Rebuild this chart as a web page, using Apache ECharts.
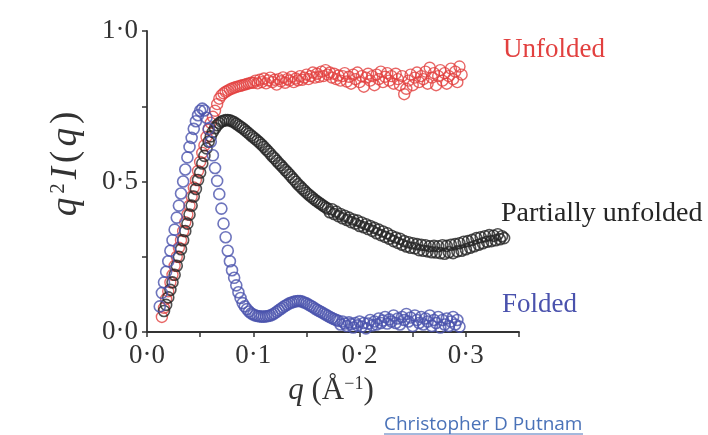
<!DOCTYPE html>
<html><head><meta charset="utf-8">
<script src="https://cdn.jsdelivr.net/npm/echarts/dist/echarts.min.js"></script>
<style>html,body{margin:0;padding:0;background:#fff;}#c{width:708px;height:435px;}</style>
</head><body><div id="c"></div>
<script>
// shared q grid (Å^-1)
const q = [
0.010,0.012,0.014,0.016,0.018,0.020,0.022,0.024,0.026,0.028,
0.030,0.032,0.034,0.036,0.038,0.040,0.042,0.044,0.046,0.048,
0.050,0.052,0.054,0.056,0.058,0.060,0.062,0.064,0.066,0.068,
0.070,0.072,0.074,0.076,0.078,0.080,0.082,0.084,0.086,0.088,
0.090,0.092,0.094,0.096,0.098,0.100,0.102,0.104,0.106,0.108,
0.110,0.112,0.114,0.116,0.118,0.120,0.122,0.124,0.126,0.128,
0.130,0.132,0.134,0.136,0.138,0.140,0.142,0.144,0.146,0.148,
0.150,0.152,0.154,0.156,0.158,0.160,0.162,0.164,0.166,0.168,
0.170,0.172,0.174,0.176,0.178,0.180,0.182,0.184,0.186,0.188,
0.190,0.192,0.194,0.196,0.198,0.200,0.202,0.204,0.206,0.208,
0.210,0.212,0.214,0.216,0.218,0.220,0.222,0.224,0.226,0.228,
0.230,0.232,0.234,0.236,0.238,0.240,0.242,0.244,0.246,0.248,
0.250,0.252,0.254,0.256,0.258,0.260,0.262,0.264,0.266,0.268,
0.270,0.272,0.274,0.276,0.278,0.280,0.282,0.284,0.286,0.288,
0.290,0.292,0.294,0.296,0.298,0.300,0.302,0.304,0.306,0.308,
0.310,0.312,0.314,0.316,0.318,0.320,0.322,0.324,0.326,0.328,
0.330,0.332,0.334,0.336];

const unfolded = [
null,null,0.05,0.08,0.11,0.135,0.165,0.19,0.22,0.25,
0.28,0.305,0.335,0.365,0.39,0.42,0.45,0.48,0.505,0.535,
0.565,0.595,0.62,0.648,0.672,0.695,0.715,0.735,0.757,0.775,
0.786,0.793,0.798,0.802,0.806,0.809,0.812,0.814,0.816,0.818,
0.82,0.822,0.824,0.826,0.828,0.828,0.835,0.826,0.838,0.83,
0.842,0.826,0.836,0.845,0.83,0.838,0.822,0.84,0.833,0.846,
0.828,0.84,0.835,0.848,0.83,0.842,0.836,0.85,0.838,0.845,
0.855,0.84,0.85,0.862,0.845,0.858,0.848,0.865,0.85,0.87,
0.855,0.862,0.845,0.858,0.84,0.852,0.835,0.85,0.86,0.832,
0.848,0.825,0.855,0.84,0.862,0.83,0.85,0.815,0.845,0.858,
0.835,0.85,0.82,0.855,0.84,0.865,0.83,0.848,0.86,0.835,
0.85,0.825,0.858,0.84,0.82,0.85,0.79,0.808,0.835,0.855,
0.82,0.845,0.862,0.83,0.85,0.84,0.865,0.825,0.878,0.845,
0.86,0.82,0.85,0.87,0.835,0.86,0.825,0.85,0.875,0.84,
0.865,0.83,0.882,0.855,null,null,null,null,null,null,
null,null,null,null,null,null,null,null,null,null,
null,null,null,null];

const partiallyUnfolded = [
null,null,null,0.07,0.09,0.115,0.14,0.165,0.19,0.22,
0.25,0.275,0.305,0.335,0.36,0.39,0.42,0.45,0.475,0.505,
0.53,0.56,0.585,0.61,0.632,0.65,0.665,0.677,0.687,0.694,
0.699,0.702,0.704,0.704,0.703,0.700,0.697,0.692,0.687,0.682,
0.677,0.671,0.665,0.659,0.653,0.647,0.641,0.635,0.629,0.622,
0.615,0.607,0.6,0.592,0.584,0.577,0.569,0.561,0.554,0.546,
0.538,0.531,0.523,0.515,0.507,0.499,0.491,0.484,0.477,0.47,
0.463,0.457,0.451,0.445,0.439,0.434,0.429,0.424,0.419,0.414,
0.41,0.398,0.408,0.392,0.4,0.385,0.392,0.378,0.386,0.372,
0.38,0.365,0.374,0.36,0.37,0.352,0.364,0.348,0.358,0.342,
0.352,0.336,0.346,0.328,0.34,0.322,0.334,0.316,0.328,0.31,
0.32,0.302,0.314,0.296,0.31,0.29,0.302,0.284,0.298,0.28,
0.295,0.278,0.292,0.272,0.29,0.27,0.288,0.268,0.285,0.265,
0.286,0.264,0.285,0.262,0.288,0.26,0.286,0.265,0.29,0.262,
0.292,0.268,0.295,0.27,0.3,0.275,0.302,0.28,0.306,0.285,
0.312,0.29,0.315,0.295,0.318,0.3,0.322,0.302,0.32,0.305,
0.325,0.308,0.318,0.312];

const folded = [
null,0.085,0.13,0.165,0.20,0.235,0.27,0.305,0.34,0.38,
0.42,0.46,0.50,0.54,0.58,0.615,0.645,0.675,0.70,0.72,
0.735,0.742,0.736,0.712,0.675,0.632,0.587,0.545,0.502,0.458,
0.41,0.36,0.315,0.27,0.235,0.205,0.18,0.155,0.132,0.113,
0.096,0.085,0.076,0.068,0.062,0.058,0.055,0.053,0.052,0.051,
0.051,0.052,0.053,0.055,0.058,0.062,0.067,0.072,0.077,0.082,
0.087,0.091,0.095,0.098,0.100,0.102,0.103,0.103,0.101,0.098,
0.095,0.091,0.087,0.083,0.078,0.074,0.070,0.066,0.062,0.058,
0.054,0.050,0.046,0.043,0.040,0.037,0.025,0.035,0.028,0.020,
0.032,0.026,0.015,0.030,0.022,0.035,0.018,0.030,0.012,0.028,
0.040,0.022,0.035,0.025,0.045,0.030,0.038,0.050,0.028,0.042,
0.035,0.055,0.030,0.045,0.025,0.050,0.040,0.060,0.035,0.048,
0.020,0.055,0.040,0.030,0.050,0.025,0.045,0.035,0.055,0.020,
0.040,0.030,0.050,0.015,0.040,0.025,0.045,0.020,0.035,0.050,
0.025,0.040,0.018,null,null,null,null,null,null,null,
null,null,null,null,null,null,null,null,null,null,
null,null,null,null];

const seriesNames = ['Unfolded', 'Partially unfolded', 'Folded'];
const xTickLabels = ['0·0', '0·1', '0·2', '0·3'];
const yTickLabels = ['0·0', '0·5', '1·0'];
const caption = 'Christopher D Putnam';

const RED = '#e2403f', BLACK = '#262626', BLUE = '#4a52ad';
const SERIF = '"Liberation Serif", "Times New Roman", serif';

function pairs(vals) {
  const out = [];
  for (let i = 0; i < q.length; i++) if (vals[i] != null) out.push([q[i], vals[i]]);
  return out;
}
function ring(color, w) {
  return { type: 'scatter', symbol: 'circle', symbolSize: 11,
    itemStyle: { color: 'rgba(0,0,0,0)', borderColor: color, borderWidth: w }, silent: true };
}
const chart = echarts.init(document.getElementById('c'), null, { renderer: 'canvas' });
const axisCommon = {
  axisLine: { show: true, lineStyle: { color: '#333', width: 1.8 } },
  axisTick: { show: true, inside: false, length: 5, lineStyle: { color: '#333', width: 1.5 } },
  splitLine: { show: false },
};
const rich = (size, sup, gap) => ({
  i: { fontFamily: SERIF, fontStyle: 'italic', fontSize: size, fill: '#333', padding: [0, gap, 0, 0] },
  n: { fontFamily: SERIF, fontSize: size, fill: '#333', padding: [0, gap, 0, 0] },
  s: { fontFamily: SERIF, fontSize: sup, fill: '#333', verticalAlign: 'top', padding: [0, gap, 0, 0] }
});
chart.setOption({
  animation: false,
  backgroundColor: '#fff',
  grid: { left: 147, right: 189, top: 31, bottom: 103 },
  xAxis: Object.assign({
    type: 'value', min: 0, max: 0.35, interval: 0.05,
    axisLabel: { fontFamily: SERIF, fontSize: 27, color: '#333', margin: 10,
      showMaxLabel: true, showMinLabel: true,
      formatter: v => { const k = Math.round(v * 20); return k % 2 === 0 ? (xTickLabels[k / 2] || '') : ''; } }
  }, axisCommon),
  yAxis: Object.assign({
    type: 'value', min: 0, max: 1, interval: 0.25,
    axisLabel: { fontFamily: SERIF, fontSize: 27, color: '#333', margin: 9,
      formatter: v => { const k = Math.round(v * 4); return k % 2 === 0 ? (yTickLabels[k / 2] || '') : ''; } }
  }, axisCommon),
  series: [
    Object.assign(ring(RED, 1.4), { name: seriesNames[0], data: pairs(unfolded) }),
    Object.assign(ring(BLACK, 1.6), { name: seriesNames[1], data: pairs(partiallyUnfolded) }),
    Object.assign(ring(BLUE, 1.6), { name: seriesNames[2], data: pairs(folded) })
  ],
  graphic: [
    { type: 'text', left: 503, top: 36, style: { text: seriesNames[0], fill: RED, font: '27px ' + SERIF } },
    { type: 'text', left: 501, top: 200, style: { text: seriesNames[1], fill: BLACK, font: '28px ' + SERIF } },
    { type: 'text', left: 502, top: 291, style: { text: seriesNames[2], fill: BLUE, font: '27px ' + SERIF } },
    { type: 'text', x: 66, y: 162, rotation: Math.PI / 2,
      style: { text: '{i|q}{s|2}{i|I}{n|(}{i|q}{n|)}', align: 'center', verticalAlign: 'middle', fill: '#333',
        rich: rich(37, 21, 4) } },
    { type: 'text', x: 331, y: 391,
      style: { text: '{i|q}{n| (Å}{s|−1}{n|)}', align: 'center', verticalAlign: 'middle', fill: '#333',
        rich: rich(31, 18, 0) } },
    { type: 'text', left: 384, top: 415, style: { text: caption, fill: '#4a72b8', font: '19px "Open Sans", sans-serif' } },
    { type: 'line', shape: { x1: 384, y1: 434, x2: 583, y2: 434 }, style: { stroke: '#4a72b8', lineWidth: 1 } }
  ]
});
</script></body></html>
